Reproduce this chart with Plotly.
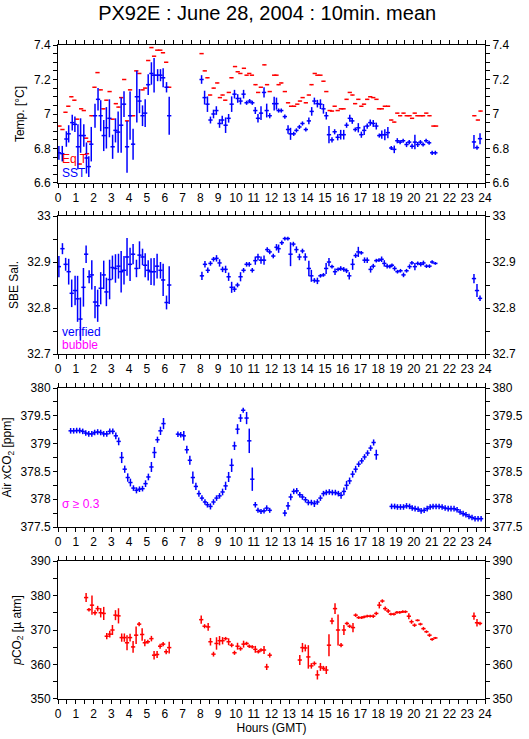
import plotly.graph_objects as go

# ---- Panel 1: temperatures ----
eq_h = [0.08, 0.25, 0.42, 0.58, 0.75, 0.92, 1.08, 1.22, 1.3, 1.45, 1.58, 1.63, 1.75, 1.88,
        2.05, 2.22, 2.4, 2.55, 2.72, 2.9, 3.07, 3.25, 3.4, 3.55, 3.72, 3.88, 4.05, 4.22,
        4.4, 4.57, 4.75, 4.9, 5.07, 5.25, 5.4, 5.58, 5.75, 5.9, 6.08, 6.25,
        8.07, 8.25, 8.4, 8.55, 8.75, 8.95, 9.1, 9.25, 9.4, 9.6, 9.75, 9.95, 10.1, 10.25,
        10.45, 10.6, 10.75, 10.9, 11.1, 11.25, 11.4, 11.6, 11.75, 11.9, 12.15, 12.28,
        12.4, 12.55, 12.75, 12.93, 13.1, 13.27, 13.45, 13.6, 13.75, 13.93, 14.1, 14.25,
        14.43, 14.58, 14.75, 14.92, 15.08, 15.27, 15.4, 15.55, 15.72, 15.9, 16.05, 16.22,
        16.4, 16.55, 16.7, 16.88, 17.05, 17.2, 17.38, 17.55, 17.72, 17.9, 18.04, 18.2,
        18.37, 18.55, 18.73, 18.9, 19.07, 19.23, 19.42, 19.6, 19.76, 19.9, 20.05, 20.2,
        20.38, 20.52, 20.7, 20.88, 21.1, 21.25, 23.4, 23.6, 23.75]
eq_t = [6.93, 6.91, 7.01, 7.045, 7.10, 7.08, 6.97, 6.71, 7.03, 7.02, 6.86, 6.77, 6.84, 6.99,
        7.155, 7.24, 7.14, 7.03, 7.08, 7.13, 6.97, 7.06, 7.04, 7.095, 7.20, 6.96, 7.14, 6.99,
        7.25, 7.235, 7.14, 7.15, 7.31, 7.385, 7.335, 7.37, 7.37, 7.355, 7.30, 7.155,
        7.35, 7.25, 7.21, 7.11, 7.15, 7.18, 7.095, 7.11, 7.08, 7.125, 7.21, 7.275, 7.245, 7.235,
        7.265, 7.225, 7.235, 7.225, 7.17, 7.125, 7.155, 7.285, 7.17, 7.13, 7.225, 7.225,
        7.17, 7.18, 7.13, 7.065, 7.045, 7.045, 7.057, 7.075, 7.095, 7.065, 7.11, 7.17,
        7.235, 7.225, 7.225, 7.19, 7.13, 7.02, 7.017, 7.045, 7.02, 7.03, 7.03, 7.085,
        7.125, 7.11, 7.06, 7.085, 7.045, 7.057, 7.085, 7.1, 7.095, 7.085, 7.03, 7.03,
        7.045, 7.045, 6.965, 6.953, 7.005, 6.99, 7.005, 6.99, 6.99, 6.975, 7.005, 6.99,
        6.99, 6.99, 7.005, 6.99, 6.93, 6.93, 6.99, 6.965, 7.017]

sst_h = [0.05, 0.24, 0.47, 0.6, 0.8, 0.95, 1.12, 1.27, 1.45, 1.6, 1.73, 1.87, 2.08, 2.25,
         2.4, 2.57, 2.72, 2.89, 3.07, 3.23, 3.38, 3.55, 3.71, 3.88, 4.05, 4.22, 4.43, 4.58,
         4.75, 4.9, 5.07, 5.25, 5.4, 5.6, 5.76, 5.91, 6.1, 6.25,
         8.07, 8.24, 8.4, 8.57, 8.74, 8.9, 9.08, 9.23, 9.42, 9.59, 9.76, 9.92, 10.1, 10.26,
         10.43, 10.6, 10.77, 10.92, 11.09, 11.24, 11.41, 11.58, 11.73, 11.9, 12.15, 12.28,
         12.4, 12.55, 12.75, 12.93, 13.07, 13.25, 13.4, 13.57, 13.74, 13.93, 14.1, 14.26,
         14.41, 14.58, 14.75, 14.92, 15.08, 15.23, 15.4, 15.55, 15.72, 15.89, 16.06, 16.22,
         16.4, 16.54, 16.71, 16.88, 17.05, 17.21, 17.38, 17.55, 17.72, 17.89, 18.06, 18.2,
         18.37, 18.54, 18.73, 18.9, 19.07, 19.23, 19.4, 19.59, 19.74, 19.9, 20.06, 20.22,
         20.37, 20.52, 20.69, 20.86, 21.03, 21.21, 23.38, 23.55, 23.72]
sst_t = [6.775, 6.77, 6.855, 6.885, 6.95, 6.94, 6.81, 6.875, 6.875, 6.745, 6.695, 6.825, 6.99, 7.085,
         6.99, 6.875, 6.92, 6.975, 6.81, 6.905, 6.895, 6.935, 7.057, 6.81, 6.99, 6.825, 7.1, 7.075,
         6.99, 7.005, 7.17, 7.235, 7.225, 7.225, 7.225, 7.21, 7.155, 6.99,
         7.2, 7.095, 7.057, 6.965, 7.0, 7.02, 6.945, 6.965, 6.935, 6.975, 7.057, 7.115, 7.09, 7.075,
         7.115, 7.065, 7.075, 7.065, 7.02, 6.975, 7.005, 7.125, 7.02, 6.99, 7.06, 7.06,
         7.02, 7.02, 6.985, 6.91, 6.885, 6.885, 6.905, 6.925, 6.945, 6.91, 6.96, 7.015,
         7.075, 7.06, 7.057, 7.03, 6.99, 6.88, 6.85, 6.897, 6.865, 6.88, 6.88, 6.935,
         6.975, 6.96, 6.91, 6.92, 6.88, 6.905, 6.93, 6.95, 6.945, 6.93, 6.875, 6.88,
         6.88, 6.892, 6.803, 6.795, 6.845, 6.837, 6.845, 6.823, 6.837, 6.813, 6.837, 6.823,
         6.837, 6.823, 6.845, 6.833, 6.775, 6.775, 6.838, 6.805, 6.857]
sst_e = [0.04, 0.045, 0.045, 0.05, 0.045, 0.045, 0.13, 0.1, 0.065, 0.09, 0.06, 0.1, 0.07, 0.065,
         0.09, 0.09, 0.12, 0.11, 0.07, 0.07, 0.12, 0.16, 0.075, 0.15, 0.14, 0.09, 0.15, 0.07,
         0.06, 0.08, 0.06, 0.065, 0.1, 0.035, 0.035, 0.055, 0.03, 0.11,
         0.025, 0.04, 0.045, 0.02, 0.025, 0.025, 0.025, 0.025, 0.045, 0.025, 0.045, 0.025, 0.025, 0.02,
         0.025, 0.012, 0.012, 0.012, 0.02, 0.025, 0.04, 0.03, 0.04, 0.015, 0.04, 0.035,
         0.012, 0.012, 0.012, 0.025, 0.035, 0.012, 0.012, 0.012, 0.012, 0.012, 0.02, 0.025,
         0.02, 0.022, 0.028, 0.028, 0.022, 0.05, 0.015, 0.015, 0.018, 0.028, 0.028, 0.015,
         0.02, 0.017, 0.012, 0.027, 0.018, 0.027, 0.015, 0.018, 0.02, 0.02, 0.012, 0.024,
         0.032, 0.032, 0.012, 0.022, 0.015, 0.012, 0.012, 0.015, 0.012, 0.015, 0.042, 0.015,
         0.012, 0.012, 0.012, 0.012, 0.012, 0.012, 0.04, 0.012, 0.032]

# ---- Panel 2: SBE salinity ----
sal_h = [0.05, 0.25, 0.43, 0.6, 0.77, 0.96, 1.1, 1.26, 1.43, 1.58, 1.75, 1.9, 2.08, 2.23,
         2.4, 2.57, 2.72, 2.9, 3.06, 3.23, 3.4, 3.55, 3.71, 3.88, 4.05, 4.22, 4.41, 4.58,
         4.75, 4.9, 5.07, 5.23, 5.4, 5.57, 5.76, 5.91, 6.1, 6.25,
         8.09, 8.26, 8.42, 8.57, 8.74, 8.91, 9.08, 9.25, 9.42, 9.59, 9.76, 9.92, 10.09, 10.26,
         10.43, 10.6, 10.75, 10.92, 11.09, 11.24, 11.41, 11.58, 11.76, 11.9, 12.1, 12.28,
         12.4, 12.58, 12.75, 12.92, 13.07, 13.23, 13.4, 13.57, 13.74, 13.9, 14.1, 14.24,
         14.41, 14.58, 14.75, 14.92, 15.07, 15.23, 15.4, 15.57, 15.74, 15.89, 16.06, 16.22,
         16.37, 16.56, 16.73, 16.88, 17.05, 17.23, 17.38, 17.57, 17.72, 17.89, 18.04, 18.19,
         18.34, 18.5, 18.65, 18.77, 18.92, 19.08, 19.25, 19.42, 19.59, 19.76, 19.89, 20.06,
         20.22, 20.39, 20.54, 20.71, 20.88, 21.03, 21.21, 23.38, 23.55, 23.72]
sal_v = [32.89, 32.929, 32.895, 32.879, 32.832, 32.838, 32.82, 32.776, 32.845, 32.917, 32.868, 32.872, 32.813, 32.805,
         32.843, 32.872, 32.835, 32.862, 32.888, 32.886, 32.891, 32.879, 32.882, 32.911, 32.895, 32.917, 32.886, 32.915,
         32.911, 32.893, 32.882, 32.879, 32.879, 32.891, 32.882, 32.861, 32.812, 32.85,
         32.87, 32.895, 32.882, 32.897, 32.906, 32.908, 32.898, 32.884, 32.884, 32.868, 32.845, 32.841, 32.85, 32.868,
         32.882, 32.895, 32.895, 32.882, 32.903, 32.911, 32.904, 32.904, 32.927, 32.922, 32.913, 32.932,
         32.929, 32.942, 32.951, 32.951, 32.917, 32.939, 32.927, 32.911, 32.924, 32.911, 32.886, 32.87,
         32.86, 32.859, 32.87, 32.872, 32.886, 32.9, 32.89, 32.879, 32.884, 32.886, 32.884, 32.881,
         32.87, 32.895, 32.914, 32.922, 32.92, 32.904, 32.904, 32.884, 32.891, 32.903, 32.904, 32.906,
         32.897, 32.891, 32.89, 32.893, 32.886, 32.879, 32.881, 32.872, 32.881, 32.89, 32.898, 32.89,
         32.897, 32.895, 32.898, 32.891, 32.891, 32.9, 32.897, 32.864, 32.838, 32.821]
sal_e = [0.023, 0.012, 0.014, 0.028, 0.03, 0.032, 0.05, 0.047, 0.042, 0.019, 0.014, 0.032, 0.035, 0.035,
         0.035, 0.031, 0.031, 0.043, 0.026, 0.031, 0.027, 0.045, 0.031, 0.041, 0.036, 0.022, 0.019, 0.03,
         0.018, 0.026, 0.022, 0.029, 0.03, 0.027, 0.018, 0.035, 0.015, 0.041,
         0.009, 0.007, 0.006, 0.005, 0.005, 0.007, 0.008, 0.006, 0.008, 0.009, 0.012, 0.006, 0.005, 0.01,
         0.005, 0.005, 0.005, 0.005, 0.009, 0.007, 0.008, 0.01, 0.005, 0.005, 0.005, 0.007,
         0.009, 0.005, 0.004, 0.004, 0.026, 0.005, 0.007, 0.007, 0.005, 0.008, 0.017, 0.013,
         0.005, 0.007, 0.004, 0.004, 0.012, 0.009, 0.004, 0.007, 0.004, 0.005, 0.005, 0.005,
         0.008, 0.012, 0.005, 0.011, 0.004, 0.006, 0.006, 0.007, 0.005, 0.004, 0.004, 0.006,
         0.007, 0.005, 0.004, 0.004, 0.005, 0.004, 0.004, 0.005, 0.004, 0.005, 0.004, 0.008,
         0.004, 0.005, 0.005, 0.004, 0.004, 0.004, 0.003, 0.01, 0.014, 0.006]

# ---- Panel 3: air xCO2 ----
air_h = [0.71, 0.88, 1.05, 1.22, 1.39, 1.56, 1.73, 1.9, 2.06, 2.23, 2.4, 2.57, 2.74, 2.91,
         3.08, 3.25, 3.41, 3.58, 3.75, 3.92, 4.07, 4.24, 4.41, 4.58, 4.75, 4.92, 5.08, 5.25,
         5.42, 5.59, 5.76, 5.93,
         6.74, 6.9, 7.07, 7.24, 7.41, 7.58, 7.75, 7.92, 8.09, 8.26, 8.4, 8.57, 8.74, 8.91,
         9.08, 9.25, 9.42, 9.59, 9.76, 9.92, 10.09, 10.26, 10.41, 10.6, 10.75, 10.92, 11.09, 11.24,
         11.41, 11.58, 11.73, 11.9,
         12.75, 12.93, 13.08, 13.25, 13.42, 13.59, 13.74, 13.91, 14.07, 14.24, 14.41, 14.58,
         14.75, 14.92, 15.08, 15.25, 15.42, 15.59, 15.76, 15.91, 16.07, 16.22, 16.39, 16.56,
         16.73, 16.9, 17.07, 17.23, 17.4, 17.57, 17.74, 17.89,
         18.75, 18.92, 19.08, 19.25, 19.42, 19.59, 19.76, 19.91, 20.07, 20.24, 20.41, 20.58,
         20.75, 20.92, 21.08, 21.25, 21.42, 21.59, 21.76, 21.93, 22.09, 22.26, 22.43, 22.6,
         22.77, 22.93, 23.1, 23.27, 23.44, 23.61, 23.78]
air_v = [379.23, 379.23, 379.235, 379.235, 379.22, 379.19, 379.175, 379.175, 379.2, 379.21, 379.2, 379.175, 379.175, 379.22,
         379.22, 379.14, 379.04, 378.75, 378.54, 378.39, 378.3, 378.2, 378.16, 378.18, 378.19, 378.28, 378.4, 378.58,
         378.84, 379.07, 379.23, 379.36,
         379.17, 379.16, 379.14, 378.89, 378.7, 378.39, 378.23, 378.1, 378.02, 377.95, 377.9, 377.87, 377.95, 378.02,
         378.06, 378.13, 378.24, 378.4, 378.61, 378.96, 379.26, 379.46, 379.6, 379.46, 379.05, 378.36, 377.9, 377.8,
         377.78, 377.79, 377.84, 377.8,
         377.75, 377.88, 378.04, 378.14, 378.15, 378.08, 378.04, 377.99, 377.94, 377.94, 377.92, 377.95,
         378.02, 378.1, 378.12, 378.13, 378.12, 378.12, 378.1, 378.07, 378.14, 378.25, 378.33, 378.45,
         378.54, 378.63, 378.69, 378.76, 378.83, 378.92, 379.02, 378.8,
         377.87, 377.87, 377.86, 377.86, 377.86, 377.88, 377.87, 377.84, 377.83, 377.82, 377.79, 377.8,
         377.83, 377.86, 377.87, 377.87, 377.87, 377.86, 377.84, 377.83, 377.83, 377.83, 377.81, 377.77,
         377.74, 377.72, 377.69, 377.67, 377.65, 377.65, 377.65]
air_e = [0.05] * 15 + [0.06, 0.07, 0.1, 0.065, 0.075, 0.07, 0.05, 0.055, 0.05, 0.05, 0.06, 0.06, 0.09,
         0.1, 0.055, 0.075, 0.1,
         0.05, 0.05, 0.085, 0.07, 0.08, 0.11, 0.065, 0.055, 0.05, 0.05, 0.05, 0.055, 0.05, 0.05,
         0.05, 0.06, 0.075, 0.09, 0.12, 0.075, 0.09, 0.07, 0.045, 0.11, 0.22, 0.21, 0.05, 0.045,
         0.045, 0.045, 0.05, 0.045,
         0.055, 0.07, 0.06, 0.05, 0.05, 0.05, 0.05, 0.05, 0.05, 0.05, 0.06, 0.05,
         0.05, 0.05, 0.05, 0.05, 0.05, 0.05, 0.05, 0.06, 0.07, 0.08, 0.06, 0.06,
         0.06, 0.05, 0.05, 0.05, 0.05, 0.05, 0.055, 0.09] + [0.05] * 31

# ---- Panel 4: pCO2 ----
pco2_h = [1.58, 1.74, 1.91, 2.08, 2.23, 2.4, 2.57, 2.74, 2.91, 3.06, 3.23, 3.4, 3.58, 3.73,
          3.88, 4.05, 4.22, 4.39, 4.56, 4.73, 4.88, 5.05, 5.25, 5.4, 5.57, 5.74, 5.91, 6.08, 6.25,
          8.05, 8.24, 8.44, 8.57, 8.74, 8.91, 9.08, 9.25, 9.42, 9.59, 9.76, 9.92, 10.09, 10.26,
          10.43, 10.6, 10.75, 10.92, 11.09, 11.26, 11.41, 11.58, 11.73, 11.9,
          13.59, 13.74, 13.9, 14.07, 14.24, 14.41, 14.58, 14.75, 14.92, 15.08, 15.23, 15.4,
          15.57, 15.74, 15.91, 16.07, 16.24, 16.39, 16.58, 16.73, 16.9, 17.07, 17.21, 17.38,
          17.55, 17.72, 17.89, 18.06, 18.23, 18.39, 18.56, 18.71, 18.88, 19.05, 19.21, 19.38,
          19.53, 19.72, 19.87, 20.04, 20.21, 20.37, 20.54, 20.71, 20.88, 21.03, 21.21,
          23.38, 23.55, 23.72]
pco2_v = [379.4, 375.9, 377.2, 375.0, 376.2, 375.0, 374.8, 368.2, 368.8, 370.0, 374.3, 374.1, 367.8, 367.8,
          366.3, 367.8, 365.1, 368.5, 371.7, 368.7, 366.3, 366.6, 367.5, 362.7, 362.9, 365.3, 365.9, 363.7, 364.9,
          373.0, 371.1, 370.9, 366.6, 363.0, 366.1, 366.9, 366.9, 367.5, 366.6, 365.6, 363.4, 365.3, 364.6,
          365.9, 366.1, 365.3, 365.1, 364.4, 363.7, 364.2, 364.2, 359.3, 362.7,
          361.3, 364.9, 364.8, 362.2, 359.6, 360.3, 357.0, 359.3, 358.9, 358.4, 365.6, 372.6,
          376.2, 370.0, 365.6, 370.0, 371.9, 371.1, 370.7, 374.3, 373.6, 373.6, 373.8, 374.0,
          374.0, 374.0, 374.8, 377.2, 378.4, 376.2, 375.5, 374.6, 374.6, 375.1, 375.1, 375.3,
          375.3, 374.0, 372.4, 371.4, 372.8, 371.7, 370.4, 369.5, 368.5, 367.3, 367.7,
          374.0, 372.1, 371.9]
pco2_e = [1.3, 0.5, 2.8, 0.7, 0.8, 1.35, 1.9, 0.9, 1.0, 1.45, 1.45, 2.2, 1.2, 1.2,
          2.2, 1.1, 1.7, 2.55, 0.6, 1.8, 1.0, 0.6, 0.8, 1.25, 1.0, 0.7, 0.6, 0.7, 1.7,
          1.2, 0.6, 1.15, 1.1, 0.7, 1.8, 1.35, 1.05, 0.5, 1.0, 0.6, 0.6, 1.0, 0.6,
          1.0, 0.5, 0.5, 0.5, 1.0, 0.5, 0.5, 1.15, 0.9, 0.7,
          1.45, 1.35, 1.0, 3.4, 0.8, 0.6, 1.35, 1.15, 0.7, 1.15, 3.2, 0.95,
          1.55, 4.5, 0.6, 1.45, 0.5, 0.5, 1.35, 0.5, 0.4, 0.4, 0.4, 0.4,
          0.4, 0.5, 0.5, 0.95, 0.5, 0.6, 0.6, 0.4, 0.4, 0.4, 0.4, 0.4,
          0.4, 0.85, 0.6, 0.5, 0.3, 0.4, 0.5, 0.4, 0.5, 0.4, 0.3,
          1.05, 1.1, 0.5]

BLUE = "#0000ff"
RED = "#ff0000"
MAGENTA = "#ff00ff"
FONT = "Liberation Sans, Arial, sans-serif"
HALF = 0.12  # half-width of the horizontal arm, in hours


def cross(x, y, color, err=None):
    tr = go.Scatter(
        x=x, y=y, mode="markers",
        marker=dict(size=1, color=color),
        error_x=dict(type="constant", value=HALF, color=color, thickness=1.5, width=0),
        showlegend=False, hoverinfo="x+y",
    )
    if err is not None:
        tr.error_y = dict(type="data", array=err, color=color, thickness=1.5, width=0)
    return tr


fig = go.Figure()

panels = [
    ("x", "y", [cross(eq_h, eq_t, RED), cross(sst_h, sst_t, BLUE, sst_e)]),
    ("x2", "y2", [cross(sal_h, sal_v, BLUE, sal_e)]),
    ("x3", "y3", [cross(air_h, air_v, BLUE, air_e)]),
    ("x4", "y4", [cross(pco2_h, pco2_v, RED, pco2_e)]),
]
for xa, ya, traces in panels:
    for tr in traces:
        tr.xaxis = xa
        tr.yaxis = ya
        fig.add_trace(tr)

# empty traces so the right-hand label axes get drawn
for i in range(4):
    fig.add_trace(go.Scatter(x=[], y=[], xaxis="x" if i == 0 else f"x{i + 1}",
                             yaxis=f"y{i + 5}", showlegend=False))

domains = [[0.789, 1.0], [0.5275, 0.7385], [0.263, 0.4755], [0.0, 0.211]]
yranges = [[6.6, 7.4], [32.7, 33.0], [377.5, 380.0], [350, 390]]
ydticks = [0.2, 0.1, 0.5, 10]
yminor = [0.05, 0.05, 0.25, 5]
ytitles = ["Temp. [°C]", "SBE Sal.", "Air xCO<sub>2</sub> [ppm]", "<i>p</i>CO<sub>2</sub> [µ atm]"]

tickfont = dict(family=FONT, size=12, color="black")
common = dict(showline=True, linecolor="black", linewidth=1, ticks="outside",
              ticklen=4, tickcolor="black", tickwidth=1, showgrid=False, zeroline=False,
              tickfont=tickfont, automargin=False)

layout = dict(
    width=529, height=739,
    margin=dict(l=58, r=44, t=45, b=40),
    paper_bgcolor="white", plot_bgcolor="white",
    font=dict(family=FONT, size=12, color="black"),
    title=dict(text="PX92E : June 28, 2004 : 10min. mean", x=0.505, xanchor="center",
               y=0.982, yanchor="middle", font=dict(family=FONT, size=20, color="black")),
)
for i in range(4):
    xname = "xaxis" if i == 0 else f"xaxis{i + 1}"
    yname = "yaxis" if i == 0 else f"yaxis{i + 1}"
    yref = "y" if i == 0 else f"y{i + 1}"
    xref = "x" if i == 0 else f"x{i + 1}"
    layout[xname] = dict(common, anchor=yref, range=[0, 24], dtick=1, tick0=0,
                         mirror="ticks",
                         minor=dict(dtick=0.5, ticks="outside", ticklen=4, tickcolor="black"))
    if i == 3:
        layout[xname]["title"] = dict(text="Hours (GMT)", font=dict(family=FONT, size=12),
                                      standoff=2)
    layout[yname] = dict(common, anchor=xref, domain=domains[i], range=yranges[i],
                         dtick=ydticks[i], tick0=yranges[i][0], mirror="ticks",
                         minor=dict(dtick=yminor[i], ticks="outside", ticklen=4, tickcolor="black"),
                         title=dict(text=ytitles[i], font=dict(family=FONT, size=12), standoff=6))
    layout[f"yaxis{i + 5}"] = dict(common, overlaying=yref, anchor=xref, side="right",
                                   range=yranges[i], dtick=ydticks[i], tick0=yranges[i][0],
                                   minor=dict(dtick=yminor[i], ticks="outside", ticklen=4,
                                              tickcolor="black"))

fig.update_layout(layout)

labels = [
    ("x", "y", 0.1, 6.739, "Eq T", RED),
    ("x", "y", 0.1, 6.66, "SST", BLUE),
    ("x2", "y2", 0.1, 32.748, "verified", BLUE),
    ("x2", "y2", 0.1, 32.72, "bubble", MAGENTA),
    ("x3", "y3", 0.1, 377.905, "σ ≥ 0.3", MAGENTA),
]
for xr, yr, x, y, txt, col in labels:
    fig.add_annotation(x=x, y=y, xref=xr, yref=yr, text=txt, showarrow=False,
                       xanchor="left", yanchor="middle",
                       font=dict(family=FONT, size=12, color=col))

# drop the browser's default 8px body margin so the page matches the 529x739 frame
fig.write_html("out.html", config={"displayModeBar": False},
               post_script="document.body.style.margin='0';")
